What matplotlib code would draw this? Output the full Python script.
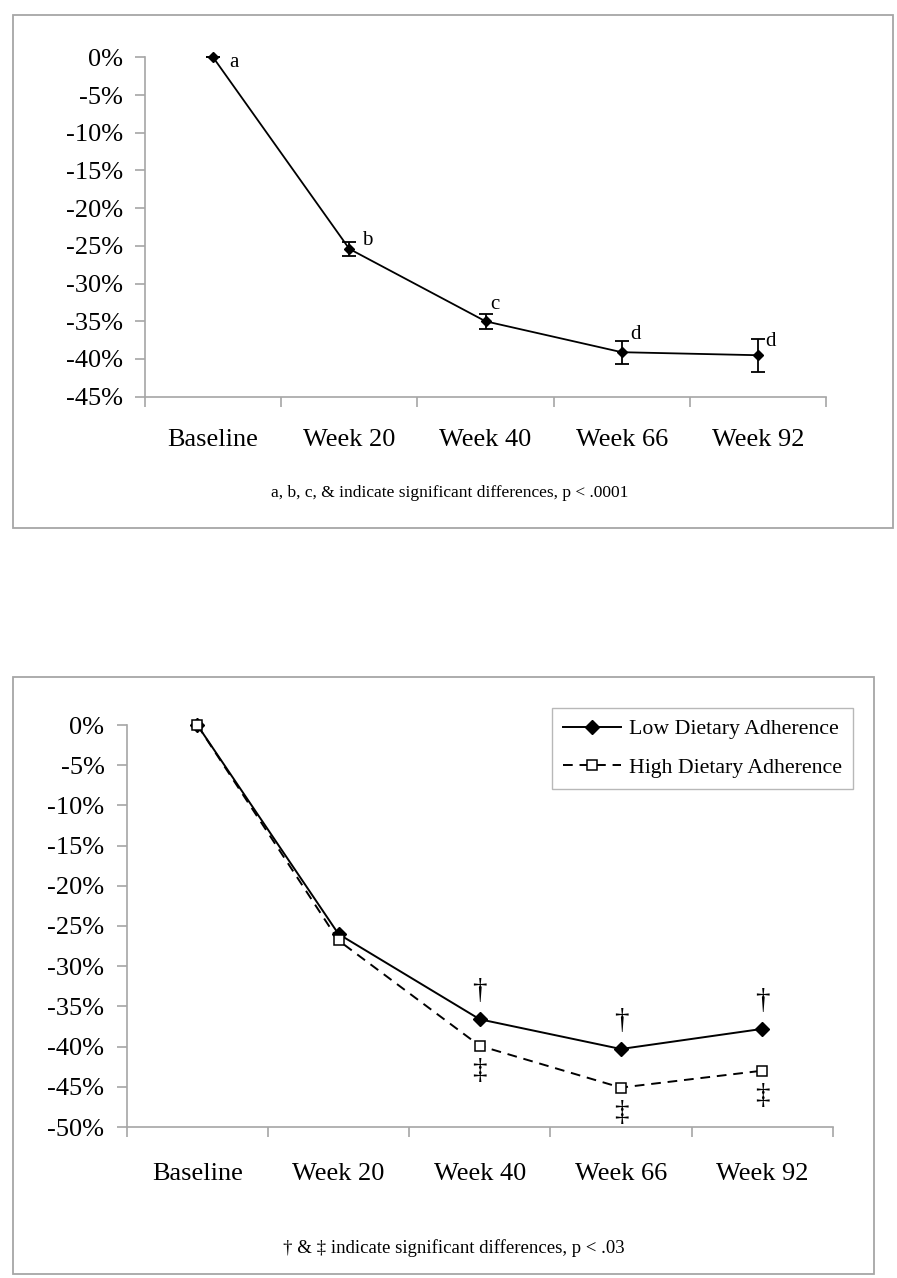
import matplotlib
matplotlib.use("Agg")
import matplotlib.pyplot as plt
from matplotlib.patches import Rectangle
from matplotlib.ticker import FixedLocator, FuncFormatter

# ---------------- data ----------------
categories = ["Baseline", "Week 20", "Week 40", "Week 66", "Week 92"]

overall_mean = [0.0, -25.4, -35.0, -39.1, -39.5]
overall_err = [0.0, 0.9, 1.0, 1.5, 2.2]
overall_letters = ["a", "b", "c", "d", "d"]

low_mean = [0.0, -26.0, -36.6, -40.3, -37.8]
high_mean = [0.0, -26.8, -39.9, -45.1, -43.0]
low_marks = ["", "", "\u2020", "\u2020", "\u2020"]
high_marks = ["", "", "\u2021", "\u2021", "\u2021"]

top_ticks = [0, -5, -10, -15, -20, -25, -30, -35, -40, -45]
bot_ticks = [0, -5, -10, -15, -20, -25, -30, -35, -40, -45, -50]

note_top = "a, b, c, & indicate significant differences, p < .0001"
note_bot = "\u2020 & \u2021 indicate significant differences, p < .03"

# ---------------- style ----------------
plt.rcParams['font.family'] = ['Liberation Serif', 'DejaVu Serif']
W, H = 897, 1278
fig = plt.figure(figsize=(W / 100, H / 100), dpi=100)
GRAY = "#a6a6a6"
TICKFS = 19


def fr(x0, y0, x1, y1):
    """pixel box (top-left origin) -> figure fraction rect"""
    return [x0 / W, 1 - y1 / H, (x1 - x0) / W, (y1 - y0) / H]


def frame(x0, y0, x1, y1):
    r = Rectangle((x0 / W, 1 - y1 / H), (x1 - x0) / W, (y1 - y0) / H,
                  transform=fig.transFigure, fill=False, edgecolor=GRAY, lw=1.3)
    fig.add_artist(r)


def style_axes(ax, ymin, ticks, xpad):
    n = len(categories)
    x = list(range(n))
    ax.set_xlim(-0.5, n - 0.5)
    ax.set_ylim(ymin, 0)
    for s in ["top", "right"]:
        ax.spines[s].set_visible(False)
    for s in ["left", "bottom"]:
        ax.spines[s].set_color(GRAY)
        ax.spines[s].set_linewidth(1.2)
    ax.set_xticks(x)
    ax.set_xticklabels(categories, fontsize=TICKFS)
    ax.xaxis.set_minor_locator(FixedLocator([i - 0.5 for i in range(n + 1)]))
    ax.tick_params(axis="x", which="major", length=0, pad=xpad)
    ax.tick_params(axis="x", which="minor", length=7, color=GRAY, width=1.2)
    ax.set_yticks(ticks)
    ax.yaxis.set_major_formatter(FuncFormatter(lambda v, p: f"{int(round(v))}%"))
    ax.tick_params(axis="y", length=7, color=GRAY, width=1.2, labelsize=TICKFS, pad=9)
    ax.patch.set_alpha(0)
    return x


# ---------------- top chart ----------------
frame(13, 15, 893, 528)
ax1 = fig.add_axes(fr(145, 57.3, 826, 396.7))
x = style_axes(ax1, -45, top_ticks, 23)
ax1.errorbar(x, overall_mean, yerr=overall_err, color="black", lw=1.3,
             marker="D", markersize=5.5, capsize=5, capthick=1.3, elinewidth=1.3,
             clip_on=False)
letter_off = [(15, -4), (13, 6), (7, 12), (10, 13), (9, 10)]
for xi, yi, t, off in zip(x, overall_mean, overall_letters, letter_off):
    ax1.annotate(t, (xi, yi), xytext=off, textcoords="offset points",
                 ha="center", va="center", fontsize=15)
fig.text(450 / W, 1 - 493 / H, note_top, ha="center", va="center", fontsize=12.5)

# ---------------- bottom chart ----------------
frame(13, 677, 874, 1274)
ax2 = fig.add_axes(fr(126.7, 725, 832.7, 1127))
x = style_axes(ax2, -50, bot_ticks, 26)
ax2.plot(x, low_mean, color="black", lw=1.4, marker="D", markersize=7,
         label="Low Dietary Adherence", clip_on=False)
ax2.plot(x, high_mean, color="black", lw=1.4, ls=(0, (5, 3.5)), marker="s",
         markersize=7, markerfacecolor="white", markeredgewidth=1.1,
         label="High Dietary Adherence", clip_on=False)
for xi, yi, t in zip(x, low_mean, low_marks):
    if t:
        ax2.annotate(t, (xi, yi), xytext=(0, 20), textcoords="offset points",
                     ha="center", va="center", fontsize=21)
for xi, yi, t in zip(x, high_mean, high_marks):
    if t:
        ax2.annotate(t, (xi, yi), xytext=(0, -18), textcoords="offset points",
                     ha="center", va="center", fontsize=21)
leg = ax2.legend(loc="upper right", bbox_to_anchor=(853 / W, 1 - 708 / H),
                 bbox_transform=fig.transFigure, fontsize=15.7, frameon=True,
                 fancybox=False, edgecolor=GRAY, handlelength=2.7,
                 handletextpad=0.35, borderpad=0.5, labelspacing=0.85,
                 borderaxespad=0)
leg.get_frame().set_linewidth(1.0)
fig.text(454 / W, 1 - 1248 / H, note_bot, ha="center", va="center", fontsize=13.5)

fig.savefig("out.png", dpi=100)
